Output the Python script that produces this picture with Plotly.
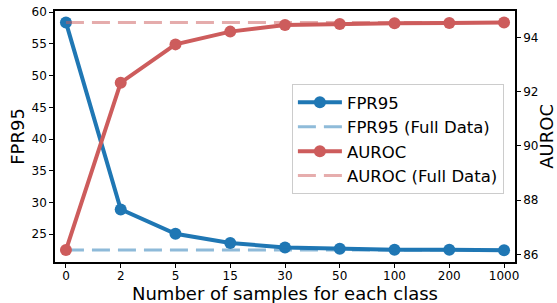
import plotly.graph_objects as go

samples = ["0", "2", "5", "15", "30", "50", "100", "200", "1000"]
fpr95 = [58.4, 28.9, 25.05, 23.6, 22.9, 22.7, 22.55, 22.55, 22.45]
auroc = [86.16, 92.33, 93.74, 94.21, 94.45, 94.49, 94.52, 94.53, 94.55]
fpr95_full = 22.5
auroc_full = 94.55

BLUE = "#1f77b4"
RED = "#cd5c5c"
FONT = "DejaVu Sans"

fig = go.Figure()
fig.add_trace(go.Scatter(x=samples, y=fpr95, name="FPR95", mode="lines+markers",
                         line=dict(color=BLUE, width=4), marker=dict(color=BLUE, size=12),
                         yaxis="y"))
fig.add_trace(go.Scatter(x=[samples[0], samples[-1]], y=[fpr95_full] * 2, name="FPR95 (Full Data)",
                         mode="lines", line=dict(color=BLUE, width=3, dash="18px,8px"),
                         opacity=0.5, yaxis="y"))
fig.add_trace(go.Scatter(x=samples, y=auroc, name="AUROC", mode="lines+markers",
                         line=dict(color=RED, width=4), marker=dict(color=RED, size=12),
                         yaxis="y2"))
fig.add_trace(go.Scatter(x=[samples[0], samples[-1]], y=[auroc_full] * 2, name="AUROC (Full Data)",
                         mode="lines", line=dict(color=RED, width=3, dash="18px,8px"),
                         opacity=0.5, yaxis="y2"))

axis_common = dict(showgrid=False, zeroline=False, showline=True, linecolor="black", linewidth=1.5,
                   ticks="outside", ticklen=4, tickwidth=1, tickcolor="black", automargin=False,
                   tickfont=dict(family=FONT, size=12, color="black"))

TITLE_SIZE = 18
fig.update_layout(
    width=557, height=303,
    margin=dict(l=55, r=42, t=11, b=41),
    plot_bgcolor="white", paper_bgcolor="white",
    font=dict(family=FONT, color="black"),
    xaxis=dict(type="category", range=[-0.2, 8.2], mirror=True, ticklabelstandoff=-2, **axis_common),
    yaxis=dict(range=[20.6, 60.2], tickvals=[25, 30, 35, 40, 45, 50, 55, 60], **axis_common),
    yaxis2=dict(range=[85.72, 94.97], tickvals=[86, 88, 90, 92, 94], overlaying="y", side="right",
                **axis_common),
    legend=dict(x=0.515, y=0.709, xanchor="left", yanchor="top", bgcolor="rgba(255,255,255,0.8)",
                bordercolor="#cccccc", borderwidth=1, font=dict(family=FONT, size=16.5),
                itemwidth=44, tracegroupgap=0),
    showlegend=True,
    annotations=[
        dict(text="Number of samples for each class", xref="paper", yref="paper", x=0.5, y=-0.125,
             xanchor="center", yanchor="middle", showarrow=False,
             font=dict(family=FONT, size=TITLE_SIZE, color="black")),
        dict(text="FPR95", xref="paper", yref="paper", x=-0.082, y=0.5, textangle=-90,
             xanchor="center", yanchor="middle", showarrow=False,
             font=dict(family=FONT, size=TITLE_SIZE, color="black")),
        dict(text="AUROC", xref="paper", yref="paper", x=1.068, y=0.5, textangle=-90,
             xanchor="center", yanchor="middle", showarrow=False,
             font=dict(family=FONT, size=TITLE_SIZE, color="black")),
    ],
)

fig.write_html("out.html", config={"displayModeBar": False},
               post_script="document.body.style.margin='0';document.body.style.overflow='hidden';")
